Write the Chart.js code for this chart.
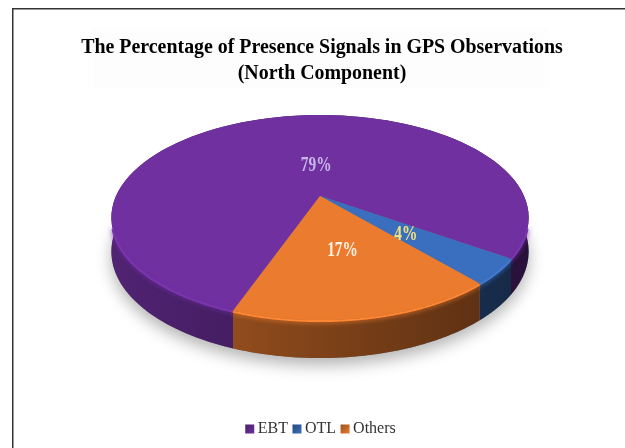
<!DOCTYPE html>
<html>
<head>
<meta charset="utf-8">
<style>
  html, body { margin: 0; padding: 0; background: #fff; }
  #wrap { width: 625px; height: 448px; }
</style>
<script src="https://cdn.jsdelivr.net/npm/chart.js@4/dist/chart.umd.min.js"></script>
</head>
<body>
<div id="wrap"><canvas id="signalPie" width="625" height="448"></canvas></div>
<script>
const titleLines = ['The Percentage of Presence Signals in GPS Observations', '(North Component)'];
const categories = ['EBT', 'OTL', 'Others'];
const shares = [79, 4, 17];
const sliceColors = ['#7030a0', '#3a6fbf', '#eb7b2e'];
const labelColors = ['#c6b8ea', '#f0e27c', '#fff3e6'];

// tilted disc: a circle seen in perspective, hub is not the middle of the ellipse
const disc = { hubX: 320, hubY: 196, rx: 204, ry: 98, tilt: 0.21, depthMid: 33, depthVar: 5 };

function project(a, r, drop) {
  const u = Math.cos(a) * r, v = Math.sin(a) * r;
  const w = 1 - disc.tilt * v;
  const d = drop ? disc.depthMid + disc.depthVar * v : 0;
  return { x: disc.hubX + disc.rx * u / w, y: disc.hubY + disc.ry * v / w + d };
}

function shade(hex, f) {
  const n = parseInt(hex.slice(1), 16);
  const c = [n >> 16, (n >> 8) & 255, n & 255].map(v => Math.min(255, Math.round(v * f)));
  return `rgb(${c[0]},${c[1]},${c[2]})`;
}

function rimPath(ctx, a0, a1, drop, reverse) {
  const steps = 90;
  for (let i = 0; i <= steps; i++) {
    const t = reverse ? 1 - i / steps : i / steps;
    const p = project(a0 + (a1 - a0) * t, 1, drop);
    ctx.lineTo(p.x, p.y);
  }
}

const tiltedPie = {
  id: 'tiltedPie',
  beforeDatasetsDraw(chart) {
    const ctx = chart.ctx;
    const arcs = chart.getDatasetMeta(0).data;
    const left = disc.hubX - disc.rx * 1.02, right = disc.hubX + disc.rx * 1.02;

    // soft shadow on the floor
    ctx.save();
    ctx.shadowColor = 'rgba(0,0,0,0.3)';
    ctx.shadowBlur = 16;
    ctx.shadowOffsetY = 7;
    ctx.fillStyle = '#777';
    ctx.beginPath();
    rimPath(ctx, 0, Math.PI * 2, true, false);
    ctx.closePath();
    ctx.fill();
    ctx.restore();

    // side wall, darker towards the right
    arcs.forEach((arc, i) => {
      const g = ctx.createLinearGradient(left, 0, right, 0);
      g.addColorStop(0, shade(sliceColors[i], 0.72));
      g.addColorStop(1, shade(sliceColors[i], 0.36));
      ctx.fillStyle = g;
      ctx.beginPath();
      rimPath(ctx, arc.startAngle, arc.endAngle, false, false);
      rimPath(ctx, arc.startAngle, arc.endAngle, true, true);
      ctx.closePath();
      ctx.fill();
    });

    // top face
    arcs.forEach((arc, i) => {
      ctx.fillStyle = sliceColors[i];
      ctx.beginPath();
      ctx.moveTo(disc.hubX, disc.hubY);
      rimPath(ctx, arc.startAngle, arc.endAngle, false, false);
      ctx.closePath();
      ctx.fill();
    });

    // rounded bevel, only on the near part of the edge
    arcs.forEach((arc, i) => {
      const span = arc.endAngle - arc.startAngle;
      ctx.save();
      ctx.strokeStyle = shade(sliceColors[i], 1.1);
      ctx.lineWidth = 2;
      ctx.shadowColor = shade(sliceColors[i], 1);
      ctx.shadowBlur = 4;
      ctx.shadowOffsetY = 1;
      ctx.beginPath();
      let drawing = false;
      for (let s = 0; s <= 240; s++) {
        const a = arc.startAngle + span * s / 240;
        if (Math.sin(a) < 0.3) {
          drawing = false;
          continue;
        }
        const p = project(a, 1, false);
        if (drawing) ctx.lineTo(p.x, p.y + 1);
        else ctx.moveTo(p.x, p.y + 1);
        drawing = true;
      }
      ctx.stroke();
      ctx.restore();
    });
    return false;
  },
  afterDraw(chart) {
    const ctx = chart.ctx;
    const arcs = chart.getDatasetMeta(0).data;
    // radial spot of each percentage on the disc, angle nudge in radians
    const spots = [{ r: 0.33, nudge: 0.25 }, { r: 0.53, nudge: 0.02 }, { r: 0.51, nudge: -0.01 }];
    arcs.forEach((arc, i) => {
      const mid = (arc.startAngle + arc.endAngle) / 2 + spots[i].nudge;
      const p = project(mid, spots[i].r, false);
      ctx.save();
      ctx.translate(p.x, p.y);
      ctx.scale(0.7, 1);
      ctx.font = 'bold 22px "Liberation Serif"';
      ctx.textAlign = 'center';
      ctx.textBaseline = 'middle';
      ctx.fillStyle = labelColors[i];
      ctx.fillText(shares[i] + '%', 0, 0);
      ctx.restore();
    });

    // legend row with tight box-to-text spacing
    ctx.save();
    ctx.font = '16px "Liberation Serif"';
    ctx.textBaseline = 'middle';
    const boxSize = 9, boxGap = 3.5, itemGap = 4.5, rowY = 429;
    const widths = categories.map(c => ctx.measureText(c).width);
    const total = widths.reduce((s, w) => s + w + boxSize + boxGap, 0) + itemGap * (categories.length - 1);
    let x = 320.5 - total / 2;
    categories.forEach((c, i) => {
      const g = ctx.createLinearGradient(x, rowY - boxSize / 2, x + boxSize, rowY + boxSize / 2);
      g.addColorStop(0, shade(sliceColors[i], 0.65));
      g.addColorStop(1, sliceColors[i]);
      ctx.fillStyle = g;
      ctx.fillRect(x, rowY - boxSize / 2, boxSize, boxSize);
      ctx.fillStyle = '#333';
      ctx.fillText(c, x + boxSize + boxGap, rowY);
      x += boxSize + boxGap + widths[i] + itemGap;
    });
    ctx.restore();
  }
};

// page frame and the faint panel behind the title
const backdrop = {
  id: 'backdrop',
  beforeDraw(chart) {
    const ctx = chart.ctx;
    ctx.save();
    ctx.fillStyle = '#fff';
    ctx.fillRect(0, 0, 625, 448);
    ctx.fillStyle = '#fdfdfd';
    ctx.fillRect(93, 27, 456, 61);
    ctx.fillStyle = '#333';
    ctx.fillRect(12, 8, 613, 1.5);
    ctx.fillRect(12, 8, 1.5, 440);
    ctx.restore();
  }
};

new Chart(document.getElementById('signalPie'), {
  type: 'pie',
  data: {
    labels: categories,
    datasets: [{ data: shares, backgroundColor: sliceColors, borderWidth: 0 }]
  },
  options: {
    responsive: false,
    animation: false,
    rotation: 200,
    layout: { padding: { left: 19 } },
    plugins: {
      title: {
        display: true,
        text: titleLines,
        color: '#000',
        font: { family: '"Liberation Serif"', size: 19.9, weight: 'bold', lineHeight: 1.3 },
        padding: { top: 35, bottom: 10 }
      },
      legend: { display: false },
      tooltip: { enabled: false }
    }
  },
  plugins: [backdrop, tiltedPie]
});
</script>
</body>
</html>
